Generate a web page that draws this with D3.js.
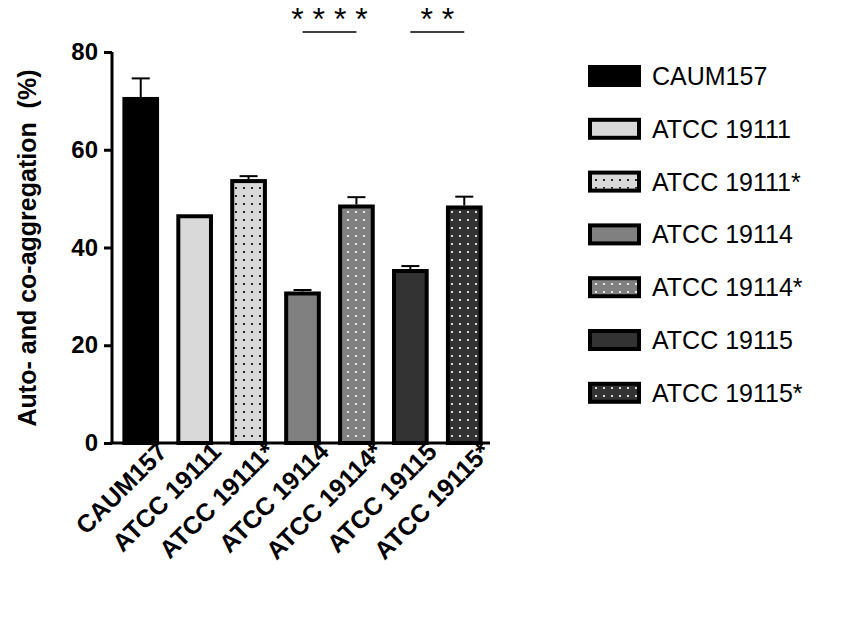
<!DOCTYPE html>
<html><head><meta charset="UTF-8">
<script src="https://d3js.org/d3.v7.min.js"></script>
<style>body{margin:0;background:#fff}text{font-family:Arial,"Liberation Sans",sans-serif}</style>
</head><body><div id="chart"></div>
<script>
const categories = ["CAUM157","ATCC 19111","ATCC 19111*","ATCC 19114","ATCC 19114*","ATCC 19115","ATCC 19115*"];
const values = [70.8, 46.8, 54.0, 31.0, 48.8, 35.6, 48.6];
const errors = [3.8, 0, 0.6, 0.3, 1.5, 0.6, 1.8];
const fills = ["#000000","#d9d9d9","#d9d9d9","#808080","#808080","#333333","#333333"];
const dotted = [false,false,true,false,true,false,true];
const yTicks = [0,20,40,60,80];
const sig = [{from:3,to:4,label:"* * * *"},{from:5,to:6,label:"* *"}];

const svg = d3.select("#chart").append("svg").attr("width",851).attr("height",622);
const defs = svg.append("defs");
["black","white"].forEach(c=>{
  const p = defs.append("pattern").attr("id","dots-"+c).attr("patternUnits","userSpaceOnUse")
    .attr("width",8).attr("height",8);
  p.append("circle").attr("cx",4).attr("cy",4).attr("r",1.1).attr("fill",c);
});

const x = d3.scaleBand().domain(categories).range([117,488]).paddingInner(0.32).paddingOuter(0.1);
const y = d3.scaleLinear().domain([0,80]).range([443,52]);

const g = svg.append("g");
categories.forEach((c,i)=>{
  const bx = x(c), bw = x.bandwidth();
  if (errors[i] > 0) {
    const cx = bx + bw/2;
    g.append("line").attr("x1",cx).attr("x2",cx).attr("y1",y(values[i])).attr("y2",y(values[i]+errors[i])).attr("stroke","#000").attr("stroke-width",2);
    g.append("line").attr("x1",cx-9).attr("x2",cx+9).attr("y1",y(values[i]+errors[i])).attr("y2",y(values[i]+errors[i])).attr("stroke","#000").attr("stroke-width",2);
  }
  g.append("rect").attr("x",bx+2).attr("y",y(values[i])+2).attr("width",bw-4).attr("height",y(0)-y(values[i])-2)
    .attr("fill",fills[i]).attr("stroke","#000").attr("stroke-width",4);
  if (dotted[i]) g.append("rect").attr("x",bx+4).attr("y",y(values[i])+4).attr("width",bw-8).attr("height",y(0)-y(values[i])-5)
    .attr("fill", fills[i]==="#d9d9d9" ? "url(#dots-black)" : "url(#dots-white)");
});

const ya = svg.append("g").attr("transform","translate(112,0)")
  .call(d3.axisLeft(y).tickValues(yTicks).tickSize(8).tickPadding(6));
ya.select(".domain").attr("stroke-width",3).attr("d","M0,444V52");
ya.selectAll(".tick line").attr("stroke-width",3);
ya.selectAll("text").attr("font-size",24).attr("font-weight","bold").attr("fill","#000");

const xa = svg.append("g").attr("transform","translate(0,443)")
  .call(d3.axisBottom(x).tickSize(0).tickPadding(12));
xa.select(".domain").attr("stroke-width",3).attr("d","M110,0H490");
xa.selectAll("text").attr("font-size",25).attr("font-weight","bold").attr("fill","#000")
  .attr("text-anchor","end").attr("dx","0.5em").attr("dy","0.6em").attr("transform","rotate(-45)");

svg.append("text").attr("transform","translate(36,248) rotate(-90)").attr("text-anchor","middle")
  .attr("font-size",25).attr("font-weight","bold").attr("xml:space","preserve").text("Auto- and co-aggregation  (%)");

sig.forEach(s=>{
  const x1 = x(categories[s.from]) + x.bandwidth()/2, x2 = x(categories[s.to]) + x.bandwidth()/2;
  svg.append("line").attr("x1",x1).attr("x2",x2).attr("y1",32).attr("y2",32).attr("stroke","#000").attr("stroke-width",1.5);
  svg.append("text").attr("x",(x1+x2)/2).attr("y",30).attr("text-anchor","middle").attr("font-size",32).text(s.label);
});

const lg = svg.append("g");
categories.forEach((c,i)=>{
  const yy = 76 + i*52.8;
  lg.append("rect").attr("x",590).attr("y",yy-9).attr("width",49).attr("height",18).attr("fill",fills[i]).attr("stroke","#000").attr("stroke-width",4);
  if (dotted[i]) lg.append("rect").attr("x",592).attr("y",yy-7).attr("width",45).attr("height",14)
    .attr("fill", fills[i]==="#d9d9d9" ? "url(#dots-black)" : "url(#dots-white)");
  lg.append("text").attr("x",652).attr("y",yy).attr("dy","0.36em").attr("font-size",25).text(c);
});
</script></body></html>
